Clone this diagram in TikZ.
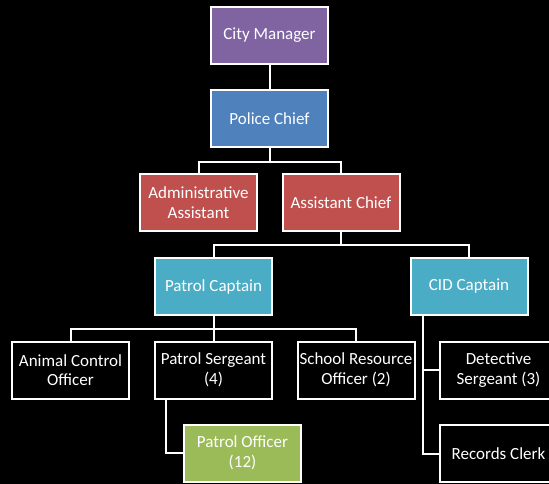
\documentclass[tikz,border=0pt]{standalone}
\usepackage{fontspec}
\setmainfont{Carlito}
\definecolor{cmpurple}{HTML}{8064A2}
\definecolor{pcblue}{HTML}{4F81BD}
\definecolor{redbox}{HTML}{C0504D}
\definecolor{tealbox}{HTML}{4BACC6}
\definecolor{greenbox}{HTML}{9BBB59}
\begin{document}
\begin{tikzpicture}[x=1pt,y=-1pt,
  box/.style={draw=white, line width=2pt, text=white, minimum width=117pt, minimum height=57pt,
    align=center, inner sep=1pt, font=\fontsize{17}{19.5}\selectfont},
  conn/.style={draw=white, line width=2pt}]
\fill[black] (0,0) rectangle (549,484);
\clip (0,0) rectangle (549,484);
\node[box, fill=cmpurple] (cm) at (269.5,35.5) {City Manager};
\node[box, fill=pcblue] (pc) at (269.5,118.5) {Police Chief};
\node[box, fill=redbox] (aa) at (198.5,202.5) {Administrative\\Assistant};
\node[box, fill=redbox] (ac) at (341,202.5) {Assistant Chief};
\node[box, fill=tealbox] (ptc) at (213.5,286.5) {Patrol Captain};
\node[box, fill=tealbox] (cidc) at (469,286.5) {CID Captain};
\node[box, fill=black] (aco) at (70.5,370) {Animal Control\\Officer};
\node[box, fill=black] (ps) at (213.5,370) {Patrol Sergeant\\(4)};
\node[box, fill=black] (sro) at (356,370) {School Resource\\Officer (2)};
\node[box, fill=black] (ds) at (498.5,370) {Detective\\Sergeant (3)};
\node[box, fill=greenbox] (po) at (242.5,453) {Patrol Officer\\(12)};
\node[box, fill=black] (rc) at (498.5,453.5) {Records Clerk};
\coordinate (j1) at (269.5,162);
\coordinate (j2) at (341,245);
\coordinate (j3) at (213.5,329);
\coordinate (psb) at ([xshift=12pt]ps.south west);
\coordinate (cidb) at ([xshift=13pt]cidc.south west);
\draw[conn] (cm.south) -- (pc.north);
\draw[conn] (pc.south) -- (j1);
\draw[conn] (aa.north) |- (j1) -| (ac.north);
\draw[conn] (ac.south) -- (j2);
\draw[conn] (ptc.north) |- (j2) -| (cidc.north);
\draw[conn] (ptc.south) -- (j3);
\draw[conn] (aco.north) |- (j3) -| (sro.north);
\draw[conn] (j3) -- (ps.north);
\draw[conn] (psb) |- (po.west);
\draw[conn] (cidb) |- (rc.west);
\draw[conn] (cidb) |- (ds.west);
\end{tikzpicture}
\end{document}
